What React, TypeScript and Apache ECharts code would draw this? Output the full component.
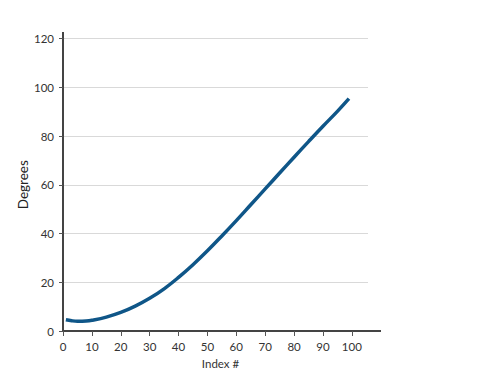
import React, { useEffect, useRef } from "react";
import * as echarts from "echarts";

const indexValues = [1, 3, 5, 8, 10, 15, 20, 25, 30, 35, 40, 45, 50, 55, 60, 65, 70, 75, 80, 85, 90, 95, 99];
const degreeValues = [4.6, 4.2, 4.0, 4.1, 4.4, 5.7, 7.6, 10.2, 13.4, 17.3, 22.0, 27.2, 32.9, 39.0, 45.3, 51.8, 58.3, 64.8, 71.3, 77.7, 84.0, 90.1, 95.3];
const xTicks = [0, 10, 20, 30, 40, 50, 60, 70, 80, 90, 100];
const yTicks = [0, 20, 40, 60, 80, 100, 120];

const FONT = "Lato, 'Open Sans', sans-serif";

export default function App() {
  const ref = useRef<HTMLDivElement>(null);
  useEffect(() => {
    const chart = echarts.init(ref.current!, null, { renderer: "svg" });
    const left = 63;
    const right = 368;
    const top = 38.5;
    const bottom = 331;
    chart.setOption({
      animation: false,
      grid: { left, top, width: right - left, height: bottom - top },
      xAxis: {
        type: "value",
        min: 0,
        max: 105.6,
        name: "Index #",
        nameLocation: "middle",
        nameGap: 26,
        nameTextStyle: { fontFamily: FONT, fontSize: 11.5, color: "#333", padding: [0, 0, 0, 10] },
        axisLine: { show: true, lineStyle: { color: "#444", width: 2 } },
        axisTick: { show: true, length: 5, customValues: xTicks, lineStyle: { color: "#555", width: 1 } },
        axisLabel: { customValues: xTicks, margin: 9, fontFamily: FONT, fontSize: 11.5, color: "#333" },
        splitLine: { show: false },
      },
      yAxis: {
        type: "value",
        min: 0,
        max: 120,
        interval: 20,
        name: "Degrees",
        nameLocation: "middle",
        nameGap: 33,
        nameMoveOverlap: false,
        nameRotate: 90,
        nameTextStyle: { fontFamily: FONT, fontSize: 13.5, color: "#222" },
        axisLine: { show: true, lineStyle: { color: "#444", width: 2 } },
        axisTick: { show: true, length: 4, lineStyle: { color: "#555", width: 1 } },
        axisLabel: { margin: 9, fontFamily: FONT, fontSize: 11.5, color: "#333", customValues: yTicks },
        splitLine: { show: true, lineStyle: { color: "#d9d9d9", width: 1 } },
      },
      graphic: [
        { type: "line", shape: { x1: right, y1: bottom, x2: 381, y2: bottom }, style: { stroke: "#444", lineWidth: 2 } },
        { type: "line", shape: { x1: left, y1: top, x2: left, y2: 32 }, style: { stroke: "#444", lineWidth: 2 } },
      ],
      series: [
        {
          type: "line",
          data: indexValues.map((x, i) => [x, degreeValues[i]]),
          smooth: 0.4,
          showSymbol: false,
          lineStyle: { color: "#0f5688", width: 3.5 },
          itemStyle: { color: "#0f5688" },
        },
      ],
    });
    return () => chart.dispose();
  }, []);
  return <div ref={ref} style={{ width: 500, height: 386, position: "absolute", left: 0, top: 0 }} />;
}
